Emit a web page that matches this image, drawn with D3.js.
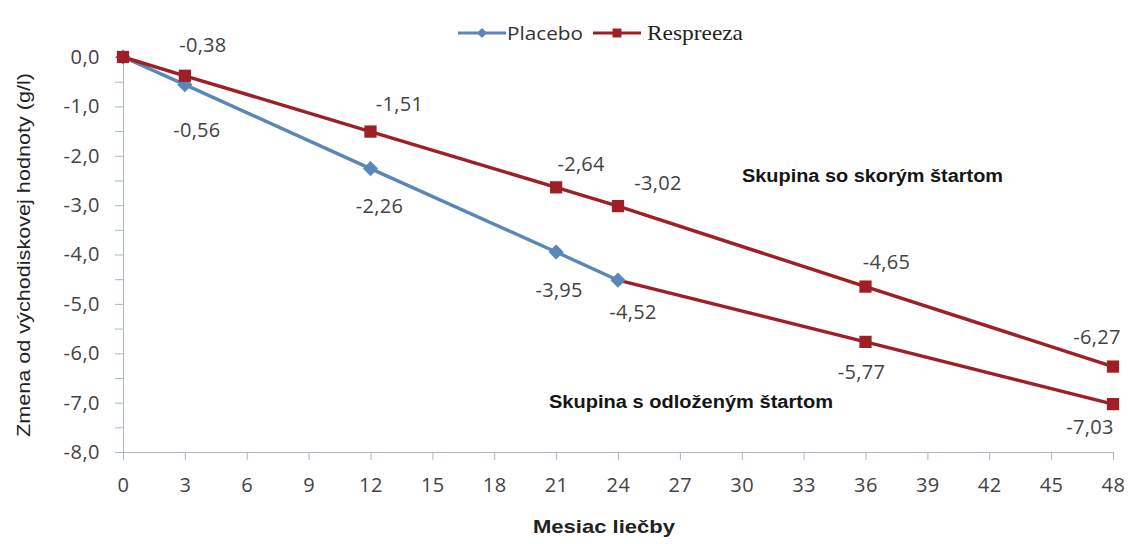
<!DOCTYPE html>
<html><head><meta charset="utf-8">
<script src="https://cdn.jsdelivr.net/npm/d3@7"></script>
<style>body{margin:0;background:#fff}svg{display:block}</style>
</head><body>
<svg id="c" width="1130" height="544"></svg>
<script>
const xTicks = [0,3,6,9,12,15,18,21,24,27,30,33,36,39,42,45,48];
const yTicks = [0,-1,-2,-3,-4,-5,-6,-7,-8];
const placeboMonths = [0,3,12,21,24];
const placeboValues = [0,-0.56,-2.26,-3.95,-4.52];
const earlyMonths = [0,3,12,21,24,36,48];
const earlyValues = [0,-0.38,-1.51,-2.64,-3.02,-4.65,-6.27];
const delayedMonths = [24,36,48];
const delayedValues = [-4.52,-5.77,-7.03];
const seriesNames = ["Placebo","Respreeza"];
const groupNames = ["Skupina so skorým štartom","Skupina s odloženým štartom"];
const xTitle = "Mesiac liečby";
const yTitle = "Zmena od východiskovej hodnoty (g/l)";

// label offsets (style only): [dx, dy] of label centre from the point
const earlyOff = [null,[18,-31],[29,-28],[25,-23],[40,-23],[21,-25],[-16,-30]];
const placeboOff = [null,[12,45],[9,37],[3,38],[15,32]];
const delayedOff = [null,[-4,30],[-23,23]];

const RED = "#a01e26", BLUE = "#5a86b8", AX = "#a9b6c8", TXT = "#434343";
const NUMFONT = "'Open Sans',sans-serif";
const svg = d3.select("#c");
const x = d3.scaleLinear().domain([0,48]).range([123,1113]);
const y = d3.scaleLinear().domain([0,-8]).range([57,452]);
const fmt = (v,p) => d3.format(p)(v).replace(".",",").replace("\u2212","-");

// axes
const xAxis = svg.append("g").attr("transform",`translate(0,${y(-8)})`)
  .call(d3.axisBottom(x).tickValues(xTicks).tickSize(8).tickPadding(18).tickFormat(d=>d));
xAxis.select(".domain").attr("stroke",AX).attr("d",`M115,0.5H${x(48)}`);
xAxis.selectAll(".tick line").attr("stroke",AX);
xAxis.selectAll("text").attr("fill",TXT).style("font-family",NUMFONT).style("font-size","20px").style("letter-spacing","0.5px");

const yAxis = svg.append("g").attr("transform",`translate(${x(0)},0)`)
  .call(d3.axisLeft(y).tickValues(yTicks).tickSize(8).tickPadding(15).tickFormat(d=>fmt(d,".1f")));
yAxis.select(".domain").attr("stroke",AX).attr("d",`M0.5,${y(0)}V${y(-8)}`);
yAxis.selectAll(".tick line").attr("stroke",AX);
yAxis.selectAll("text").attr("fill",TXT).style("font-family",NUMFONT).style("font-size","20px").style("letter-spacing","0.5px");
// minor ticks
svg.append("g").selectAll("line").data(d3.range(-0.5,-8,-1)).join("line")
  .attr("x1",x(0)-8).attr("x2",x(0)).attr("y1",d=>y(d)+0.5).attr("y2",d=>y(d)+0.5).attr("stroke",AX);

const line = d3.line().x(d=>x(d[0])).y(d=>y(d[1]));
const zip = (a,b)=>a.map((m,i)=>[m,b[i]]);
const early = zip(earlyMonths,earlyValues), placebo = zip(placeboMonths,placeboValues), delayed = zip(delayedMonths,delayedValues);

svg.append("path").attr("d",line(delayed)).attr("fill","none").attr("stroke",RED).attr("stroke-width",3.4);
svg.append("path").attr("d",line(placebo)).attr("fill","none").attr("stroke",BLUE).attr("stroke-width",3.4);
svg.append("path").attr("d",line(early)).attr("fill","none").attr("stroke",RED).attr("stroke-width",3.4);

const sq = d3.symbol().type(d3.symbolSquare).size(150);
const dia = d3.symbol().type(d3.symbolSquare).size(115);
svg.append("g").selectAll("path").data(placebo).join("path").attr("d",dia)
  .attr("transform",d=>`translate(${x(d[0])},${y(d[1])}) rotate(45)`).attr("fill",BLUE);
svg.append("g").selectAll("path").data(delayed.slice(1)).join("path").attr("d",sq)
  .attr("transform",d=>`translate(${x(d[0])},${y(d[1])})`).attr("fill",RED);
svg.append("g").selectAll("path").data(early).join("path").attr("d",sq)
  .attr("transform",d=>`translate(${x(d[0])},${y(d[1])})`).attr("fill",RED);

// data labels
function labels(data, off){
  svg.append("g").selectAll("text").data(data.map((d,i)=>[d,off[i]]).filter(p=>p[1])).join("text")
    .attr("x",p=>x(p[0][0])+p[1][0]).attr("y",p=>y(p[0][1])+p[1][1]+7)
    .attr("text-anchor","middle").attr("fill",TXT)
    .style("font-family",NUMFONT).style("font-size","20px").style("letter-spacing","0.3px")
    .text(p=>fmt(p[0][1],".2f"));
}
labels(early,earlyOff); labels(placebo,placeboOff); labels(delayed,delayedOff);

// group annotations
const boldFont = "'Liberation Sans',Arial,sans-serif";
svg.append("text").attr("x",742).attr("y",182).attr("fill","#151515").attr("textLength",261).attr("lengthAdjust","spacingAndGlyphs")
  .style("font-family",boldFont).style("font-size","18px").style("font-weight","bold").text(groupNames[0]);
svg.append("text").attr("x",549).attr("y",408).attr("fill","#151515").attr("textLength",284).attr("lengthAdjust","spacingAndGlyphs")
  .style("font-family",boldFont).style("font-size","18px").style("font-weight","bold").text(groupNames[1]);

// axis titles
svg.append("text").attr("x",533).attr("y",533).attr("fill","#222").attr("textLength",142).attr("lengthAdjust","spacingAndGlyphs")
  .style("font-family",boldFont).style("font-size","19px").style("font-weight","bold").text(xTitle);
svg.append("text").attr("transform","translate(30,437) rotate(-90)").attr("fill","#222").attr("textLength",364).attr("lengthAdjust","spacingAndGlyphs")
  .style("font-family",boldFont).style("font-size","19px").text(yTitle);

// legend
const lg = svg.append("g");
lg.append("line").attr("x1",458).attr("x2",506).attr("y1",33).attr("y2",33).attr("stroke",BLUE).attr("stroke-width",3);
lg.append("path").attr("d",d3.symbol().type(d3.symbolSquare).size(50)).attr("transform","translate(482,33) rotate(45)").attr("fill",BLUE);
lg.append("text").attr("x",507).attr("y",40).attr("fill","#333").attr("textLength",76).attr("lengthAdjust","spacingAndGlyphs")
  .style("font-family",NUMFONT).style("font-size","19px").text(seriesNames[0]);
lg.append("line").attr("x1",593).attr("x2",641).attr("y1",33).attr("y2",33).attr("stroke",RED).attr("stroke-width",3.2);
lg.append("path").attr("d",d3.symbol().type(d3.symbolSquare).size(80)).attr("transform","translate(617,33)").attr("fill",RED);
lg.append("text").attr("x",647).attr("y",40).attr("fill","#222").attr("textLength",96).attr("lengthAdjust","spacingAndGlyphs")
  .style("font-family","'Liberation Serif',serif").style("font-size","21px").text(seriesNames[1]);
</script>
</body></html>
